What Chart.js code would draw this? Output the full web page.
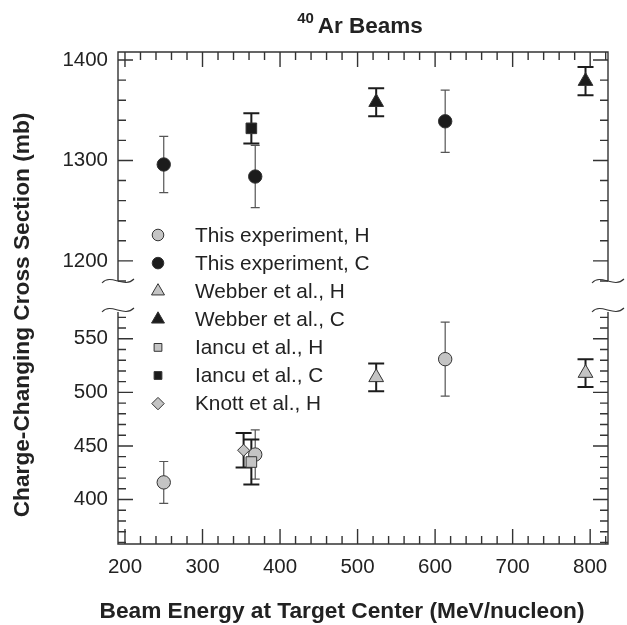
<!DOCTYPE html>
<html lang="en">
  <head>
    <meta charset="UTF-8" />
    <title>40Ar Beams</title>
    <script src="https://cdn.jsdelivr.net/npm/chart.js"></script>
    <style>
      html,
      body {
        margin: 0;
        padding: 0;
        background: #fff;
      }
    </style>
  </head>
  <body>
    <canvas id="myChart" width="627" height="625"></canvas>
    <script>
      // series names (legend order)
      const seriesNames = [
        "This experiment, H",
        "This experiment, C",
        "Webber et al., H",
        "Webber et al., C",
        "Iancu et al., H",
        "Iancu et al., C",
        "Knott et al., H",
      ];

      // energies (MeV/nucleon), cross sections (mb), errors (mb)
      const thisH_energy = [250, 368, 613];
      const thisH_value = [416, 442, 531];
      const thisH_error = [19.5, 23, 34.5];

      const thisC_energy = [250, 368, 613];
      const thisC_value = [1296, 1284, 1339];
      const thisC_error = [28, 31, 31];

      const webberH_energy = [524, 794];
      const webberH_value = [514, 518];
      const webberH_error = [13, 13];

      const webberC_energy = [524, 794];
      const webberC_value = [1358, 1379];
      const webberC_error = [14, 14];

      const iancuH_energy = [363];
      const iancuH_value = [435];
      const iancuH_error = [21];

      const iancuC_energy = [363];
      const iancuC_value = [1332];
      const iancuC_error = [15];

      const knottH_energy = [353];
      const knottH_value = [446];
      const knottH_error = [16];

      // tick labels
      const xTicks = [200, 300, 400, 500, 600, 700, 800];
      const yTopTicks = [1200, 1300, 1400];
      const yBotTicks = [400, 450, 500, 550];

      const FONT = "'Liberation Sans', Arial, Helvetica, sans-serif";
      const GRAY = "#c4c4c4";
      const BLACK = "#1c1c1c";
      const EDGE = "#333333";
      const AXIS = "#333333";
      const TEXT = "#222222";

      const toPoints = (xs, ys, es) =>
        xs.map((x, i) => ({ x: x, y: ys[i], err: es[i] }));

      const thinBar = { barColor: "#555555", barWidth: 1.2, capHalf: 4.5, order: 1 };
      const thickBar = { barColor: BLACK, barWidth: 2, capHalf: 8, order: 0 };

      const datasets = [
        Object.assign(
          {
            label: seriesNames[0],
            data: toPoints(thisH_energy, thisH_value, thisH_error),
            yAxisID: "yBot",
            pointStyle: "circle",
            pointRadius: 6.7,
            backgroundColor: GRAY,
            legendRadius: 5.8,
          },
          thinBar
        ),
        Object.assign(
          {
            label: seriesNames[1],
            data: toPoints(thisC_energy, thisC_value, thisC_error),
            yAxisID: "yTop",
            pointStyle: "circle",
            pointRadius: 6.7,
            backgroundColor: BLACK,
            legendRadius: 5.8,
          },
          thinBar
        ),
        Object.assign(
          {
            label: seriesNames[2],
            data: toPoints(webberH_energy, webberH_value, webberH_error),
            yAxisID: "yBot",
            pointStyle: "triangle",
            pointRadius: 8.5,
            backgroundColor: GRAY,
            legendRadius: 7.5,
          },
          thickBar
        ),
        Object.assign(
          {
            label: seriesNames[3],
            data: toPoints(webberC_energy, webberC_value, webberC_error),
            yAxisID: "yTop",
            pointStyle: "triangle",
            pointRadius: 8.5,
            backgroundColor: BLACK,
            legendRadius: 7.5,
          },
          thickBar
        ),
        Object.assign(
          {
            label: seriesNames[4],
            data: toPoints(iancuH_energy, iancuH_value, iancuH_error),
            yAxisID: "yBot",
            pointStyle: "rect",
            pointRadius: 7.5,
            backgroundColor: GRAY,
            legendRadius: 5.5,
          },
          thickBar
        ),
        Object.assign(
          {
            label: seriesNames[5],
            data: toPoints(iancuC_energy, iancuC_value, iancuC_error),
            yAxisID: "yTop",
            pointStyle: "rect",
            pointRadius: 7.5,
            backgroundColor: BLACK,
            legendRadius: 5.5,
          },
          thickBar
        ),
        Object.assign(
          {
            label: seriesNames[6],
            data: toPoints(knottH_energy, knottH_value, knottH_error),
            yAxisID: "yBot",
            pointStyle: "rectRot",
            pointRadius: 6,
            backgroundColor: GRAY,
            legendRadius: 6.2,
          },
          thickBar
        ),
      ];
      datasets.forEach((ds) => {
        ds.borderColor = EDGE;
        ds.borderWidth = 1;
        ds.pointHoverRadius = ds.pointRadius;
      });

      const tickFont = { size: 20.5, family: FONT };
      const fixTicks = (list) => (s) => {
        s.ticks = list.map((v) => ({ value: v }));
      };

      // frame with inward ticks, broken axis marks
      const wave = (ctx, x, y) => {
        ctx.moveTo(x - 16, y + 2);
        ctx.bezierCurveTo(x - 7, y - 8, x + 6, y + 8, x + 16, y - 2);
      };

      const tick = (ctx, x, y, dx, dy) => {
        ctx.moveTo(x, y);
        ctx.lineTo(x + dx, y + dy);
      };

      const decor = {
        id: "decor",
        beforeDatasetsDraw(chart) {
          const ctx = chart.ctx;
          const xs = chart.scales.x;
          const yt = chart.scales.yTop;
          const yb = chart.scales.yBot;
          const L = chart.chartArea.left;
          const R = chart.chartArea.right;
          ctx.save();
          ctx.strokeStyle = AXIS;
          ctx.lineWidth = 1.4;
          ctx.beginPath();
          ctx.moveTo(L, yt.bottom);
          ctx.lineTo(L, yt.top);
          ctx.lineTo(R, yt.top);
          ctx.lineTo(R, yt.bottom);
          ctx.moveTo(L, yb.top);
          ctx.lineTo(L, yb.bottom);
          ctx.lineTo(R, yb.bottom);
          ctx.lineTo(R, yb.top);

          for (let v = 200; v <= xs.max; v += 20) {
            const len = v % 100 === 0 ? 15 : 8;
            const px = xs.getPixelForValue(v);
            tick(ctx, px, yb.bottom, 0, -len);
            tick(ctx, px, yt.top, 0, len);
          }
          for (let v = 1180; v <= yt.max; v += 20) {
            const len = v % 100 === 0 ? 15 : 8;
            const py = yt.getPixelForValue(v);
            tick(ctx, L, py, len, 0);
            tick(ctx, R, py, -len, 0);
          }
          for (let v = 360; v <= yb.max; v += 10) {
            const len = v % 50 === 0 ? 15 : 8;
            const py = yb.getPixelForValue(v);
            tick(ctx, L, py, len, 0);
            tick(ctx, R, py, -len, 0);
          }
          ctx.stroke();

          ctx.beginPath();
          ctx.lineWidth = 1.1;
          wave(ctx, L, yt.bottom);
          wave(ctx, L, yb.top - 2);
          wave(ctx, R, yt.bottom);
          wave(ctx, R, yb.top - 2);
          ctx.stroke();

          // error bars
          chart.data.datasets.forEach((ds, i) => {
            const meta = chart.getDatasetMeta(i);
            const ys = chart.scales[ds.yAxisID];
            ctx.strokeStyle = ds.barColor;
            ctx.lineWidth = ds.barWidth;
            ctx.beginPath();
            ds.data.forEach((p, j) => {
              const px = meta.data[j].x;
              const hi = ys.getPixelForValue(p.y + p.err);
              const lo = ys.getPixelForValue(p.y - p.err);
              ctx.moveTo(px, hi);
              ctx.lineTo(px, lo);
              ctx.moveTo(px - ds.capHalf, hi);
              ctx.lineTo(px + ds.capHalf, hi);
              ctx.moveTo(px - ds.capHalf, lo);
              ctx.lineTo(px + ds.capHalf, lo);
            });
            ctx.stroke();
          });
          ctx.restore();
        },
        afterDraw(chart) {
          const ctx = chart.ctx;
          const L = chart.chartArea.left;
          const T = chart.chartArea.top;
          ctx.save();
          ctx.fillStyle = TEXT;
          ctx.textAlign = "left";
          ctx.textBaseline = "alphabetic";

          // title with superscript mass number
          ctx.font = "bold 22.5px " + FONT;
          const w1 = ctx.measureText("Ar Beams").width;
          ctx.font = "bold 15px " + FONT;
          const w2 = ctx.measureText("40").width;
          const x0 = 360 - (w1 + w2 + 4) / 2;
          ctx.fillText("40", x0, 22.7);
          ctx.font = "bold 22.5px " + FONT;
          ctx.fillText("Ar Beams", x0 + w2 + 4, 33.3);

          // axis titles
          ctx.font = "bold 22.7px " + FONT;
          ctx.textAlign = "center";
          ctx.fillText("Beam Energy at Target Center (MeV/nucleon)", 342, 618);
          ctx.save();
          ctx.translate(28.5, 315);
          ctx.rotate(-Math.PI / 2);
          ctx.fillText("Charge-Changing Cross Section (mb)", 0, 0);
          ctx.restore();

          // legend
          ctx.textAlign = "left";
          ctx.textBaseline = "middle";
          chart.data.datasets.forEach((ds, i) => {
            const y = T + 183 + i * 28.1;
            const x = L + 40;
            ctx.fillStyle = ds.backgroundColor;
            ctx.strokeStyle = ds.borderColor;
            ctx.lineWidth = 1;
            Chart.helpers.drawPoint(
              ctx,
              { pointStyle: ds.pointStyle, radius: ds.legendRadius, rotation: 0, borderWidth: 1 },
              x,
              y
            );
            ctx.fillStyle = TEXT;
            ctx.font = "20.8px " + FONT;
            ctx.fillText(ds.label, L + 77, y + 1);
          });
          ctx.restore();
        },
      };

      const yBase = (min, max, ticks, weight, stackWeight) => ({
        type: "linear",
        position: "left",
        stack: "y",
        stackWeight: stackWeight,
        weight: weight,
        min: min,
        max: max,
        afterBuildTicks: fixTicks(ticks),
        afterFit: (s) => {
          s.width = 118;
        },
        grid: { display: false, drawTicks: false },
        border: { display: false },
        ticks: {
          padding: 10,
          color: TEXT,
          font: tickFont,
          autoSkip: false,
          callback: (v) => String(v),
        },
      });

      const yGap = yBase(0, 1, [], 2, 31);
      yGap.ticks = { display: false };

      const myChart = new Chart(document.getElementById("myChart"), {
        type: "scatter",
        data: { datasets: datasets },
        options: {
          responsive: false,
          animation: false,
          layout: { padding: { left: 0, right: 19, top: 52, bottom: 0 } },
          plugins: {
            legend: { display: false },
            tooltip: { enabled: false },
          },
          scales: {
            x: {
              type: "linear",
              position: "bottom",
              min: 191,
              max: 823,
              afterBuildTicks: fixTicks(xTicks),
              afterFit: (s) => {
                s.height = 81;
              },
              grid: { display: false, drawTicks: false },
              border: { display: false },
              ticks: {
                padding: 11,
                color: TEXT,
                font: tickFont,
                autoSkip: false,
                maxRotation: 0,
                callback: (v) => String(v),
              },
            },
            y: { display: false },
            yTop: yBase(1180, 1408, yTopTicks, 3, 229),
            yGap: yGap,
            yBot: yBase(358.5, 575, yBotTicks, 1, 232),
          },
        },
        plugins: [decor],
      });
    </script>
  </body>
</html>
